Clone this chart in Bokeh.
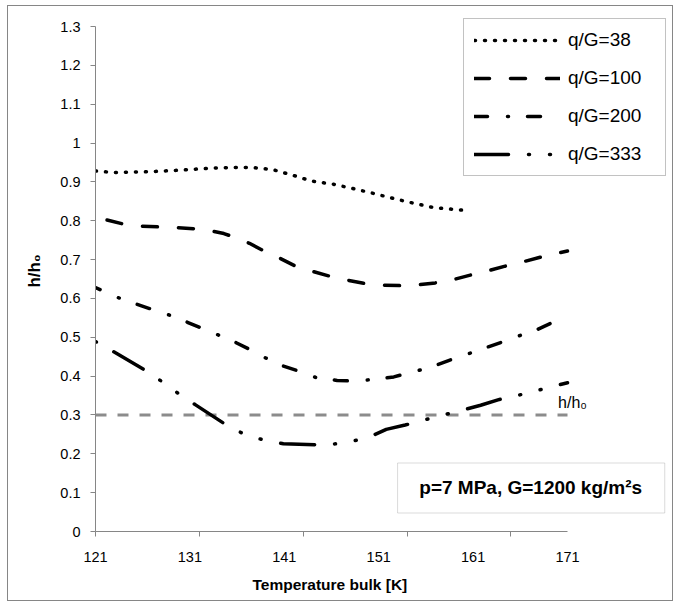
from bokeh.plotting import figure
from bokeh.models import (Range1d, FixedTicker, NumeralTickFormatter, Legend,
                          LegendItem, Label, BoxAnnotation, Title)
from bokeh.embed import file_html
from bokeh.resources import INLINE

# ---------------- data ----------------
t38 = [121.0, 123.1, 126.5, 129.8, 133.0, 135.3, 137.6, 139.7, 141.8, 143.9,
       146.2, 148.4, 150.5, 152.6, 154.7, 156.8, 160.0]
h38 = [0.928, 0.924, 0.926, 0.930, 0.935, 0.937, 0.937, 0.932, 0.918, 0.902,
       0.894, 0.882, 0.870, 0.857, 0.845, 0.834, 0.827]

t100 = [121.0, 122.2, 124.0, 125.9, 127.9, 129.7, 131.7, 133.2, 134.6, 136.0,
        137.3, 138.7, 140.4, 142.2, 143.8, 145.7, 147.7, 149.4, 151.4, 153.2,
        155.1, 157.0, 159.0, 160.7, 162.7, 164.4, 166.4, 168.1, 171.0]
h100 = [0.810, 0.802, 0.791, 0.786, 0.784, 0.782, 0.779, 0.774, 0.767, 0.755,
        0.742, 0.724, 0.705, 0.683, 0.671, 0.658, 0.647, 0.639, 0.634, 0.633,
        0.635, 0.640, 0.649, 0.660, 0.672, 0.683, 0.695, 0.706, 0.722]

t200 = [121.0, 123.4, 125.4, 127.2, 129.1, 130.8, 132.3, 134.1, 135.9, 137.3,
        139.0, 140.9, 142.5, 144.4, 146.6, 148.5, 150.6, 152.6, 154.3, 156.4,
        158.4, 160.2, 162.2, 164.1, 165.8, 167.9, 171.0]
h200 = [0.628, 0.602, 0.585, 0.570, 0.555, 0.538, 0.523, 0.505, 0.486, 0.469,
        0.447, 0.426, 0.413, 0.396, 0.389, 0.387, 0.392, 0.398, 0.409, 0.422,
        0.440, 0.455, 0.472, 0.488, 0.503, 0.521, 0.556]

t333 = [121.0, 122.9, 126.4, 128.1, 129.9, 131.6, 135.0, 136.8, 138.9, 140.9,
        145.0, 146.6, 148.3, 149.8, 151.8, 153.8, 155.8, 157.9, 161.8, 163.8,
        166.0, 171.0]
h333 = [0.489, 0.463, 0.413, 0.385, 0.353, 0.326, 0.272, 0.250, 0.235, 0.226,
        0.223, 0.226, 0.233, 0.241, 0.263, 0.274, 0.287, 0.300, 0.325, 0.340,
        0.352, 0.383]

ref_t = [121.0, 171.0]
ref_h = [0.3, 0.3]

series_names = ["q/G=38", "q/G=100", "q/G=200", "q/G=333"]
x_tick_labels = [121, 131, 141, 151, 161, 171]
x_tick_marks = [121, 132, 143, 154, 165]
y_ticks = [0.0, 0.1, 0.2, 0.3, 0.4, 0.5, 0.6, 0.7, 0.8, 0.9, 1.0, 1.1, 1.2, 1.3]
ref_label = "h/h\u2080"
x_title = "Temperature bulk [K]"
y_title = "h/h\u2080"
note_text = "p=7 MPa, G=1200 kg/m\u00b2s"

# ---------------- figure ----------------
FONT = "Liberation Sans"
GRAY = "#868686"

# frame: x 95..670 px (axis drawn 121..171 over 95..567), y 10..531 px
p = figure(width=664, height=594, output_backend="svg", toolbar_location=None,
           x_range=Range1d(121, 181.91), y_range=Range1d(0, 1.3412),
           min_border_left=87, min_border_right=2,
           min_border_top=4, min_border_bottom=69)
p.margin = (6, 0, 0, 8)
p.styles = {"outline": "1px solid " + GRAY}
p.outline_line_color = None
p.background_fill_color = "white"
p.border_fill_color = "white"
p.xgrid.visible = False
p.ygrid.visible = False

# x axis
xa = p.xaxis[0]
xa.bounds = (121, 171)
xa.ticker = FixedTicker(ticks=x_tick_labels, minor_ticks=x_tick_marks)
xa.axis_line_color = GRAY
xa.major_tick_out = 0
xa.major_tick_in = 0
xa.minor_tick_out = 5
xa.minor_tick_in = 0
xa.minor_tick_line_color = GRAY
xa.major_label_text_font = FONT
xa.major_label_text_font_size = "14.5px"
xa.major_label_text_color = "black"
xa.major_label_standoff = 15
# tiny blank axis label only to add a little space before the title
xa.axis_label = " "
xa.axis_label_text_font_size = "1px"
xa.axis_label_standoff = 0

# x title, centred under the drawn axis (121..171)
p.add_layout(Title(text=x_title, align="left", offset=157,
                   text_font=FONT, text_font_style="bold",
                   text_font_size="15.5px", text_color="black"), "below")

# y axis
ya = p.yaxis[0]
ya.bounds = (0, 1.3)
ya.ticker = FixedTicker(ticks=y_ticks)
ya.formatter = NumeralTickFormatter(format="0.[0]")
ya.axis_line_color = GRAY
ya.major_tick_line_color = GRAY
ya.major_tick_out = 5
ya.major_tick_in = 0
ya.minor_tick_line_color = None
ya.major_label_text_font = FONT
ya.major_label_text_font_size = "14.5px"
ya.major_label_text_color = "black"
ya.major_label_standoff = 10
ya.axis_label = y_title
ya.axis_label_text_font = FONT
ya.axis_label_text_font_style = "bold"
ya.axis_label_text_font_size = "17px"
ya.axis_label_text_color = "black"
ya.axis_label_standoff = 13

# reference line
p.line(ref_t, ref_h, line_color="#8c8c8c", line_width=3, line_dash="11 11")
p.add_layout(Label(x=171, y=0.3, text=ref_label, text_align="center",
                   text_baseline="bottom", x_offset=5, y_offset=4,
                   text_font=FONT, text_font_size="16px", text_color="black"))

LW = 3.5
DASH = ["1 9", "15 21", "13 20 1 19", "34 20 1 20 1 20"]
p.line(t38, h38, line_color="black", line_width=LW, line_dash=DASH[0],
       line_cap="round")
p.line(t100, h100, line_color="black", line_width=LW, line_dash=DASH[1],
       line_dash_offset=24, line_cap="round")
p.line(t200, h200, line_color="black", line_width=LW, line_dash=DASH[2],
       line_dash_offset=8, line_cap="round")
p.line(t333, h333, line_color="black", line_width=LW, line_dash=DASH[3],
       line_dash_offset=75, line_cap="round")

# legend swatches: same styles, pattern starting with its dash; their data
# lie outside the visible ranges so only the legend shows them
off_x = [300.0, 301.0]
off_y = [5.0, 5.0]
swatches = [p.line(off_x, off_y, line_color="black", line_width=LW,
                   line_dash=d, line_cap="round") for d in DASH]

legend = Legend(items=[LegendItem(label=n, renderers=[r]) for n, r in
                       zip(series_names, swatches)],
                location=(368, 355))
legend.border_line_color = GRAY
legend.border_line_width = 1
legend.background_fill_color = "white"
legend.background_fill_alpha = 1
legend.padding = 10
legend.spacing = 16
legend.margin = 0
legend.glyph_width = 86
legend.glyph_height = 20
legend.label_height = 20
legend.label_width = 87
legend.label_standoff = 8
legend.label_text_font = FONT
legend.label_text_font_size = "19px"
legend.label_text_color = "black"
p.add_layout(legend)

# annotation box
p.add_layout(BoxAnnotation(left=153.0, right=181.3, bottom=0.0476, top=0.1763,
                           fill_color="white", fill_alpha=1,
                           line_color=GRAY, line_width=1))
p.add_layout(Label(x=167.1, y=0.112, text=note_text, text_align="center",
                   text_baseline="middle", text_font=FONT,
                   text_font_style="bold", text_font_size="19px",
                   text_color="black"))

open("out.html", "w").write(file_html(p, INLINE))
